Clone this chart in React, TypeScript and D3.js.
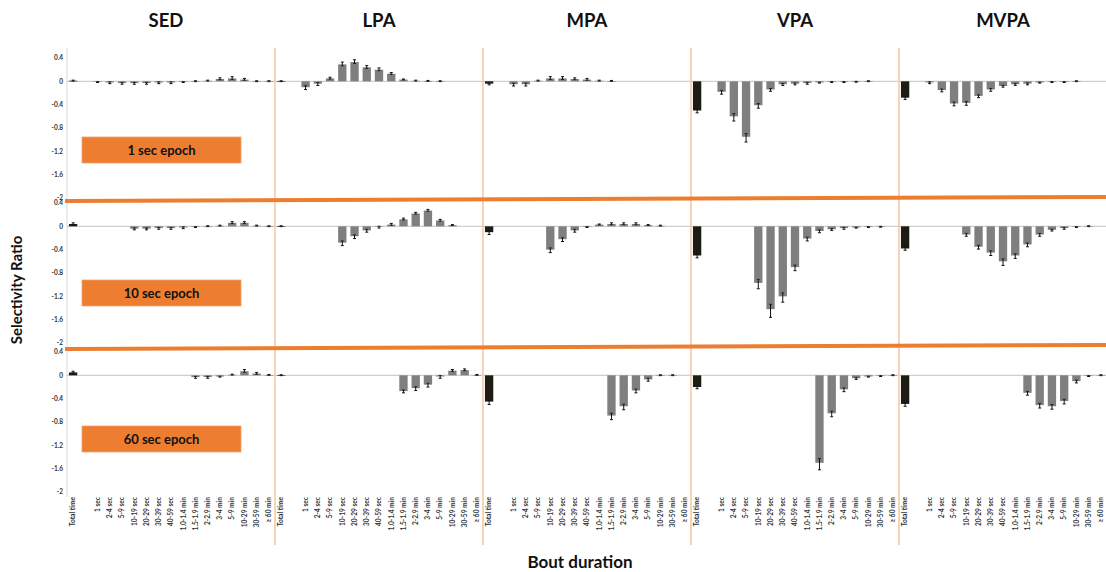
import React from "react";
import * as d3 from "d3";

const activities = ["SED", "LPA", "MPA", "VPA", "MVPA"];
const epochs = ["1 sec epoch", "10 sec epoch", "60 sec epoch"];
const categories = [
  "Total time", "", "1 sec", "2-4 sec", "5-9 sec", "10-19 sec", "20-29 sec", "30-39 sec",
  "40-59 sec", "1.0-1.4 min", "1.5-1.9 min", "2-2.9 min", "3-4 min", "5-9 min",
  "10-29 min", "30-59 min", "≥ 60 min",
];
const yTicks = [0.4, 0, -0.4, -0.8, -1.2, -1.6, -2];

// values per category (skipping the empty slot): Total, 1 sec ... ≥ 60 min
const N = null;
// 1 sec epoch
const sed1 = [0.01, -0.01, -0.02, -0.03, -0.03, -0.03, -0.02, -0.02, -0.01, 0, 0.01, 0.04, 0.05, 0.03, 0.0, 0.0];
const lpa1 = [0.0, -0.1, -0.04, 0.05, 0.29, 0.33, 0.24, 0.2, 0.13, 0.03, 0.01, 0.005, 0.0, N, N, N];
const mpa1 = [-0.04, -0.05, -0.05, 0.01, 0.05, 0.05, 0.04, 0.03, 0.01, 0.005, N, N, N, N, N, N];
const vpa1 = [-0.5, -0.18, -0.6, -0.95, -0.41, -0.14, -0.05, -0.04, -0.03, -0.02, -0.01, -0.01, -0.005, 0, N, N];
const mvpa1 = [-0.28, -0.02, -0.15, -0.38, -0.37, -0.25, -0.14, -0.08, -0.05, -0.04, -0.02, -0.01, -0.01, 0, N, N];
// 10 sec epoch
const sed2 = [0.04, N, N, N, -0.04, -0.04, -0.03, -0.03, -0.02, -0.01, 0.0, 0.01, 0.06, 0.06, 0.01, 0.0];
const lpa2 = [0.0, N, N, N, -0.28, -0.17, -0.07, -0.01, 0.03, 0.12, 0.22, 0.27, 0.1, 0.02, N, N];
const mpa2 = [-0.1, N, N, N, -0.4, -0.22, -0.07, -0.01, 0.03, 0.04, 0.04, 0.04, 0.02, 0.01, N, N];
const vpa2 = [-0.5, N, N, N, -0.97, -1.42, -1.2, -0.7, -0.21, -0.08, -0.05, -0.03, -0.02, -0.01, -0.005, N];
const mvpa2 = [-0.38, N, N, N, -0.14, -0.35, -0.45, -0.6, -0.5, -0.31, -0.14, -0.06, -0.03, -0.01, 0, N];
// 60 sec epoch
const sed3 = [0.05, N, N, N, N, N, N, N, N, -0.03, -0.03, -0.02, 0.01, 0.07, 0.03, 0.005];
const lpa3 = [0.0, N, N, N, N, N, N, N, N, -0.27, -0.22, -0.16, -0.02, 0.08, 0.09, 0.005];
const mpa3 = [-0.45, N, N, N, N, N, N, N, N, -0.69, -0.53, -0.26, -0.07, 0.0, 0.0, N];
const vpa3 = [-0.2, N, N, N, N, N, N, N, N, -1.5, -0.65, -0.24, -0.05, -0.02, -0.01, 0.0];
const mvpa3 = [-0.49, N, N, N, N, N, N, N, N, -0.3, -0.51, -0.53, -0.44, -0.1, -0.01, 0.0];

// error bar half-lengths
const sed1e = [0.01, 0.01, 0.02, 0.02, 0.02, 0.02, 0.02, 0.02, 0.01, 0.01, 0.01, 0.02, 0.03, 0.02, 0.01, 0.01];
const lpa1e = [0.01, 0.04, 0.03, 0.02, 0.04, 0.04, 0.03, 0.03, 0.02, 0.01, 0.01, 0.01, 0.01, N, N, N];
const mpa1e = [0.02, 0.03, 0.03, 0.01, 0.03, 0.03, 0.02, 0.02, 0.01, 0.01, N, N, N, N, N, N];
const vpa1e = [0.04, 0.04, 0.08, 0.09, 0.05, 0.03, 0.02, 0.02, 0.02, 0.01, 0.01, 0.01, 0.01, 0.01, N, N];
const mvpa1e = [0.03, 0.02, 0.03, 0.04, 0.04, 0.03, 0.03, 0.02, 0.02, 0.02, 0.01, 0.01, 0.01, 0.01, N, N];
const sed2e = [0.02, N, N, N, 0.02, 0.02, 0.02, 0.02, 0.02, 0.01, 0.01, 0.01, 0.02, 0.02, 0.01, 0.01];
const lpa2e = [0.01, N, N, N, 0.05, 0.04, 0.03, 0.02, 0.02, 0.02, 0.02, 0.02, 0.02, 0.01, N, N];
const mpa2e = [0.04, N, N, N, 0.05, 0.04, 0.03, 0.01, 0.01, 0.02, 0.02, 0.02, 0.01, 0.01, N, N];
const vpa2e = [0.04, N, N, N, 0.1, 0.14, 0.1, 0.06, 0.04, 0.03, 0.02, 0.02, 0.01, 0.01, 0.01, N];
const mvpa2e = [0.03, N, N, N, 0.03, 0.04, 0.05, 0.07, 0.05, 0.04, 0.03, 0.02, 0.02, 0.01, 0.01, N];
const sed3e = [0.02, N, N, N, N, N, N, N, N, 0.02, 0.02, 0.01, 0.01, 0.03, 0.02, 0.01];
const lpa3e = [0.01, N, N, N, N, N, N, N, N, 0.03, 0.04, 0.04, 0.03, 0.02, 0.02, 0.01];
const mpa3e = [0.05, N, N, N, N, N, N, N, N, 0.07, 0.06, 0.04, 0.03, 0.01, 0.01, N];
const vpa3e = [0.03, N, N, N, N, N, N, N, N, 0.12, 0.06, 0.04, 0.02, 0.01, 0.01, 0.01];
const mvpa3e = [0.04, N, N, N, N, N, N, N, N, 0.04, 0.05, 0.05, 0.05, 0.03, 0.01, 0.01];

const rowValues = [
  [sed1, lpa1, mpa1, vpa1, mvpa1],
  [sed2, lpa2, mpa2, vpa2, mvpa2],
  [sed3, lpa3, mpa3, vpa3, mvpa3],
];
const rowErrors = [
  [sed1e, lpa1e, mpa1e, vpa1e, mvpa1e],
  [sed2e, lpa2e, mpa2e, vpa2e, mvpa2e],
  [sed3e, lpa3e, mpa3e, vpa3e, mvpa3e],
];

const W = 1106;
const H = 572;
const plotLeft = 67;
const plotRight = 1107;
const rowTops = [58, 203, 352];
const rowHeight = 140;
const boxTops = [137, 280, 426];
const FONT = "Lato, 'Open Sans', 'Liberation Sans', sans-serif";

export default function App() {
  const slotIds: string[] = [];
  activities.forEach((a, ai) => categories.forEach((c, ci) => slotIds.push(`${ai}-${ci}`)));
  const x = d3.scaleBand<string>().domain(slotIds).range([plotLeft, plotRight]).paddingInner(0.32).paddingOuter(0.16);
  const step = x.step();
  const panelWidth = step * categories.length;
  const bw = x.bandwidth();

  const yScales = rowTops.map((t) => d3.scaleLinear().domain([0.4, -2]).range([t, t + rowHeight]));

  const bars: React.ReactNode[] = [];
  rowValues.forEach((row, ri) => {
    const y = yScales[ri];
    row.forEach((vals, ai) => {
      vals.forEach((v, vi) => {
        if (v === null) return;
        const ci = vi === 0 ? 0 : vi + 1;
        const xx = x(`${ai}-${ci}`)!;
        const y0 = y(0);
        const y1 = y(v);
        const e = rowErrors[ri][ai][vi] ?? 0;
        const cx = xx + bw / 2;
        const sign = v >= 0 ? 1 : -1;
        const eEnd = y(v + sign * e);
        const eStart = y(v - sign * e * 0.6);
        bars.push(
          <g key={`b-${ri}-${ai}-${vi}`}>
            <rect x={xx} y={Math.min(y0, y1)} width={bw} height={Math.max(0.6, Math.abs(y1 - y0))}
              fill={vi === 0 ? "#1e1c12" : "#7f7f7f"} />
            <line x1={cx} x2={cx} y1={eStart} y2={eEnd} stroke="#111" strokeWidth={1} />
            <line x1={cx - 1.5} x2={cx + 1.5} y1={eEnd} y2={eEnd} stroke="#111" strokeWidth={1} />
            <line x1={cx - 1.5} x2={cx + 1.5} y1={eStart} y2={eStart} stroke="#111" strokeWidth={0.8} />
          </g>
        );
      });
    });
  });

  const boxW = 159;
  const boxH = 26;

  return (
    <svg width={W} height={H} style={{ position: "absolute", left: 0, top: 0, background: "#fff" }}
      fontFamily={FONT}>
      {/* titles */}
      {activities.map((a, ai) => (
        <text key={a} x={plotLeft + panelWidth * ai + panelWidth / 2 - (ai === 0 ? 5 : 0)} y={27}
          textAnchor="middle" fontSize={18.5} fontWeight={700} fill="#111">{a}</text>
      ))}
      {/* y axis line */}
      <line x1={plotLeft} x2={plotLeft} y1={48} y2={497} stroke="#d9d9d9" strokeWidth={1} />
      {/* zero lines + ticks */}
      {yScales.map((y, ri) => (
        <g key={`ax-${ri}`}>
          <line x1={plotLeft} x2={W} y1={y(0)} y2={y(0)} stroke="#cfcfcf" strokeWidth={1.2} />
          {yTicks.map((t) => (
            <text key={t} x={63} y={y(t) + 2.3} textAnchor="end" fontSize={6.5} fontWeight={700} fill="#333">
              {t === 0 ? "0" : String(t)}
            </text>
          ))}
        </g>
      ))}
      {/* panel separators */}
      {activities.slice(1).map((a, ai) => {
        const xx = plotLeft + panelWidth * (ai + 1);
        return <line key={`v-${a}`} x1={xx} x2={xx} y1={48} y2={545} stroke="#f7c3a0" strokeWidth={1.5} />;
      })}
      {bars}
      {/* x labels */}
      {slotIds.map((id) => {
        const ci = +id.split("-")[1];
        const label = categories[ci];
        if (!label) return null;
        const cx = x(id)! + bw / 2 + 2.3;
        return (
          <text key={`xl-${id}`} transform={`translate(${cx},497) rotate(-90)`} textAnchor="end"
            fontSize={6.6} fontWeight={700} fill="#333">{label}</text>
        );
      })}
      {/* orange separator lines */}
      <line x1={65} x2={W} y1={201} y2={197} stroke="#ed7d31" strokeWidth={4} />
      <line x1={65} x2={W} y1={349} y2={345} stroke="#ed7d31" strokeWidth={4} />
      {/* epoch boxes */}
      {epochs.map((ep, ri) => {
        const yTop = boxTops[ri];
        return (
          <g key={ep}>
            <rect x={82} y={yTop} width={boxW} height={boxH} fill="#ed7d31" stroke="#f4a46e" strokeWidth={0.8} />
            <text x={82 + boxW / 2} y={yTop + boxH / 2 + 4.5} textAnchor="middle" fontSize={13}
              fontWeight={700} fill="#111">{ep}</text>
          </g>
        );
      })}
      {/* axis titles */}
      <text transform="translate(22,290) rotate(-90)" textAnchor="middle" fontSize={15} fontWeight={700}
        fill="#111">Selectivity Ratio</text>
      <text x={580} y={568} textAnchor="middle" fontSize={17} fontWeight={700} fill="#111">Bout duration</text>
    </svg>
  );
}
